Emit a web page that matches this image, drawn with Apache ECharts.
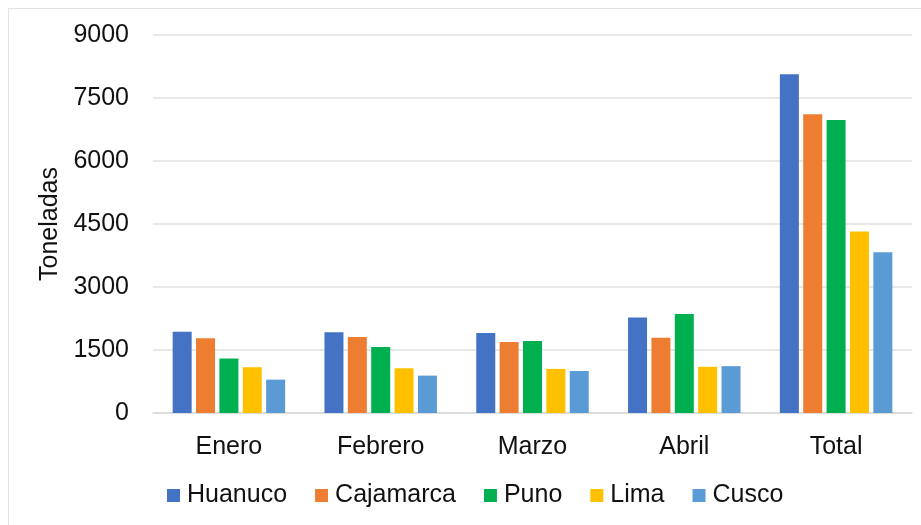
<!DOCTYPE html>
<html>
<head>
<meta charset="utf-8">
<script src="https://cdn.jsdelivr.net/npm/echarts@6/dist/echarts.min.js"></script>
<style>
html,body{margin:0;padding:0;background:#fff;}
#frame{position:absolute;left:8px;top:8px;width:913px;height:517px;border-left:1px solid #e3e3e3;border-top:1px solid #e3e3e3;}
#chart{position:absolute;left:0;top:0;width:921px;height:525px;}
</style>
</head>
<body>
<div id="frame"></div>
<div id="chart"></div>
<script>
const categories = ['Enero', 'Febrero', 'Marzo', 'Abril', 'Total'];
const huanuco   = [1935, 1920, 1905, 2275, 8065];
const cajamarca = [1780, 1810, 1690, 1790, 7115];
const puno      = [1295, 1570, 1715, 2355, 6975];
const lima      = [1090, 1065, 1050, 1100, 4320];
const cusco     = [795, 890, 1000, 1115, 3825];
const yTicks = [0, 1500, 3000, 4500, 6000, 7500, 9000];

const names = ['Huanuco', 'Cajamarca', 'Puno', 'Lima', 'Cusco'];
const colors = ['#4472c4', '#ed7d31', '#00b050', '#ffc000', '#5b9bd5'];
const seriesData = [huanuco, cajamarca, puno, lima, cusco];

const font = 'Liberation Sans, Arial, Helvetica, sans-serif';
const chart = echarts.init(document.getElementById('chart'));
chart.setOption({
  animation: false,
  color: colors,
  grid: {left: 153, right: 9, top: 35, bottom: 112, containLabel: false},
  legend: {
    data: names,
    bottom: 12,
    left: 162,
    itemWidth: 13, itemHeight: 13,
    itemGap: 28,
    icon: 'rect',
    textStyle: {fontFamily: font, fontSize: 25, color: '#111', padding: [0, 0, 0, 2]}
  },
  xAxis: {
    type: 'category',
    data: categories,
    axisLine: {show: true, lineStyle: {color: '#d9d9d9', width: 1.5}},
    axisTick: {show: false},
    axisLabel: {fontFamily: font, fontSize: 25, color: '#111', margin: 22}
  },
  yAxis: {
    type: 'value',
    min: yTicks[0], max: yTicks[yTicks.length - 1], interval: 1500,
    name: 'Toneladas',
    nameLocation: 'middle',
    nameGap: 77,
    nameRotate: 90,
    nameTextStyle: {fontFamily: font, fontSize: 25, color: '#111'},
    axisLine: {show: false},
    axisTick: {show: false},
    axisLabel: {fontFamily: font, fontSize: 25, color: '#111', margin: 24, formatter: v => String(v)},
    splitLine: {lineStyle: {color: '#e0e0e0', width: 1.5}}
  },
  series: seriesData.map((d, i) => ({
    name: names[i],
    type: 'bar',
    data: d,
    barWidth: 19,
    barGap: '23%',
    itemStyle: {color: colors[i]}
  }))
});
</script>
</body>
</html>
